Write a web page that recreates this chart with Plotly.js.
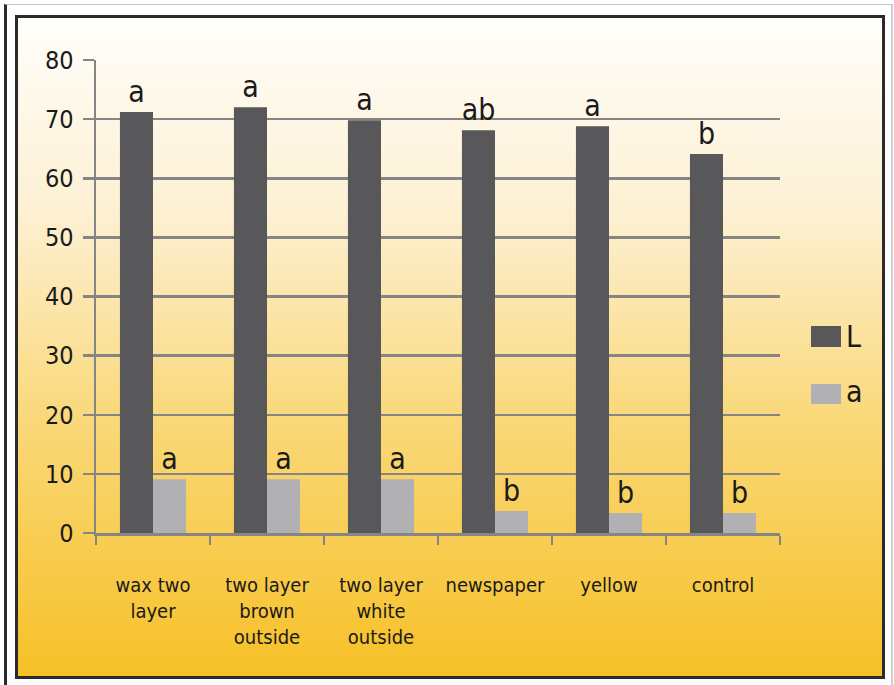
<!DOCTYPE html>
<html>
<head>
<meta charset="utf-8">
<script src="https://cdn.plot.ly/plotly-3.0.1.min.js"></script>
<style>
  html, body { margin: 0; padding: 0; background: #ffffff; }
  #frame {
    position: absolute; left: 4px; top: 4px; width: 884px; height: 690px;
    border-left: 3px solid #2a2a2a; border-top: 1px solid #c4c4c4; border-right: 2px solid #cfcfcf;
  }
  #panel {
    position: absolute; left: 15px; top: 15px; width: 864px; height: 658px;
    border: 3px solid #2b2b2b;
    background: linear-gradient(to bottom, #fffefb 0%, #fdf0d2 30%, #fad97c 60%, #f6c026 100%);
  }
  #chart { position: absolute; left: 0; top: 0; width: 894px; height: 685px; }
</style>
</head>
<body>
<div id="frame"></div>
<div id="panel"></div>
<div id="chart"></div>
<script>
// Treatments along the x axis
const categories = [
  "wax two<br>layer",
  "two layer<br>brown<br>outside",
  "two layer<br>white<br>outside",
  "newspaper",
  "yellow",
  "control"
];

// Colour values per treatment
const valuesL = [71.2, 72.0, 69.8, 68.1, 68.8, 64.1];
const valuesA = [9.1, 9.1, 9.1, 3.7, 3.4, 3.4];

// Significance letters shown above each bar
const lettersL = ["a", "a", "a", "ab", "a", "b"];
const lettersA = ["a", "a", "a", "b", "b", "b"];

const seriesNames = ["L", "a"];
const seriesColors = ["#58585a", "#b1b1b3"];

const fontFamily = "DejaVu Sans Condensed, DejaVu Sans, sans-serif";
const letterFont = { family: fontFamily, size: 30, color: "#1a1a1a" };

const traces = [
  {
    type: "bar", name: seriesNames[0], x: categories, y: valuesL,
    marker: { color: seriesColors[0] },
    text: lettersL, textposition: "outside", textfont: letterFont,
    constraintext: "none", cliponaxis: false, hoverinfo: "skip"
  },
  {
    type: "bar", name: seriesNames[1], x: categories, y: valuesA,
    marker: { color: seriesColors[1] },
    text: lettersA, textposition: "outside", textfont: letterFont,
    constraintext: "none", cliponaxis: false, hoverinfo: "skip"
  }
];

// Legend drawn as swatches + labels to the right of the plot area
const legendShapes = [
  { type: "rect", xref: "paper", yref: "paper", x0: 1.0453, x1: 1.0892, y0: 0.3932, y1: 0.4376,
    fillcolor: seriesColors[0], line: { width: 0 } },
  { type: "rect", xref: "paper", yref: "paper", x0: 1.0453, x1: 1.0892, y0: 0.2727, y1: 0.3150,
    fillcolor: seriesColors[1], line: { width: 0 } }
];
const legendLabels = [
  { xref: "paper", yref: "paper", x: 1.094, y: 0.4154, xanchor: "left", yanchor: "middle",
    text: seriesNames[0], showarrow: false,
    font: { family: fontFamily, size: 30, color: "#1a1a1a" } },
  { xref: "paper", yref: "paper", x: 1.094, y: 0.300, xanchor: "left", yanchor: "middle",
    text: seriesNames[1], showarrow: false,
    font: { family: fontFamily, size: 30, color: "#1a1a1a" } }
];

const layout = {
  width: 894, height: 685,
  margin: { l: 96, r: 114, t: 60, b: 152, pad: 0 },
  paper_bgcolor: "rgba(0,0,0,0)",
  plot_bgcolor: "rgba(0,0,0,0)",
  barmode: "group",
  bargap: 0.42,
  bargroupgap: 0,
  showlegend: false,
  font: { family: fontFamily, color: "#1a1a1a" },
  xaxis: {
    type: "category",
    range: [-0.5, 5.5],
    showline: true, linecolor: "#858585", linewidth: 2.5,
    ticks: "outside", tickson: "boundaries", ticklen: 9, tickwidth: 2, tickcolor: "#858585",
    tickfont: { size: 20, color: "#1a1a1a" },
    ticklabelstandoff: 32,
    showgrid: false, zeroline: false, fixedrange: true
  },
  yaxis: {
    range: [0, 80], tick0: 0, dtick: 10,
    showline: true, linecolor: "#858585", linewidth: 2.5,
    showgrid: true, gridcolor: "#858585", gridwidth: 2.5,
    ticks: "outside", ticklen: 11, tickwidth: 2.5, tickcolor: "#858585",
    tickfont: { size: 25, color: "#1a1a1a" },
    ticklabelstandoff: 4,
    zeroline: false, fixedrange: true
  },
  shapes: legendShapes,
  annotations: legendLabels
};

Plotly.newPlot("chart", traces, layout, { staticPlot: true, displayModeBar: false });
</script>
</body>
</html>
